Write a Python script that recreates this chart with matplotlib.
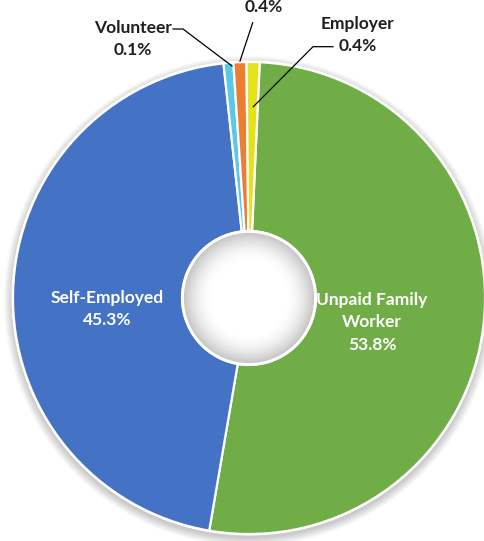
import numpy as np
import matplotlib
matplotlib.use('Agg')
import matplotlib.pyplot as plt
from matplotlib.patches import Circle

# slices, clockwise from the top
categories = ['Unpaid Family Worker', 'Self-Employed', 'Volunteer', '', 'Employer']
pct_labels = ['53.8%', '45.3%', '0.1%', '0.4%', '0.4%']
# shares of the ring as drawn in the picture
shares = [52.0, 45.6, 0.67, 0.89, 0.89]
colors = ['#70AD47', '#4472C4', '#5BC8EA', '#ED7D31', '#E3E21B']

W, H = 484, 541
cx, cy = 249, H - 298
R, r_hole = 236, 67

plt.rcParams['font.family'] = ['Lato', 'DejaVu Sans']
fig = plt.figure(figsize=(W / 100, H / 100), dpi=100)
ax = fig.add_axes([0, 0, 1, 1])

# soft outer shadow
for i in range(1, 10):
    ax.add_patch(Circle((cx, cy - 3), R + i, color='black', alpha=0.022, lw=0, zorder=0))
ax.add_patch(Circle((cx, cy), R + 1.5, color='white', lw=0, zorder=0.5))

wedges, _ = ax.pie(shares, colors=colors, startangle=90 - 2.6, counterclock=False,
                   radius=R, center=(cx, cy),
                   wedgeprops=dict(width=R - r_hole, edgecolor='white', linewidth=1.6))

# hole with inner shading
n = 200
g = np.linspace(-1, 1, n)
xx, yy = np.meshgrid(g, g)
d = np.sqrt(xx ** 2 + yy ** 2)
shade = 1 - 0.25 * np.clip((d - 0.55) / 0.45, 0, 1) ** 1.8
hole = ax.imshow(shade, cmap='gray', vmin=0, vmax=1,
                 extent=[cx - r_hole, cx + r_hole, cy - r_hole, cy + r_hole],
                 zorder=3, interpolation='bilinear')
clip = Circle((cx, cy), r_hole - 1, transform=ax.transData)
hole.set_clip_path(clip)
ax.add_patch(Circle((cx, cy), r_hole - 0.5, fill=False, ec='white', lw=2, zorder=4))

# labels inside the big slices
ax.text(107, H - 309, categories[1] + '\n' + pct_labels[1], color='white',
        fontsize=12.5, fontweight='bold', ha='center', va='center', linespacing=1.5)
ax.text(372, H - 322, 'Unpaid Family\nWorker\n' + pct_labels[0], color='white',
        fontsize=12.5, fontweight='bold', ha='center', va='center', linespacing=1.5)

# outside labels with leader lines
ax.text(133, H - 39, categories[2] + '\n' + pct_labels[2], color='#1f1f1f',
        fontsize=12.5, fontweight='bold', ha='center', va='center', linespacing=1.5)
ax.plot([173, 183, 232], [H - 29, H - 29, H - 66], color='black', lw=0.9, zorder=5)

ax.text(264, H - 7, pct_labels[3], color='#1f1f1f',
        fontsize=12.5, fontweight='bold', ha='center', va='center')
ax.plot([252.7, 240], [H - 22.7, H - 61], color='black', lw=0.9, zorder=5)

ax.text(358, H - 35, categories[4] + '\n' + pct_labels[4], color='#1f1f1f',
        fontsize=12.5, fontweight='bold', ha='center', va='center', linespacing=1.5)
ax.plot([333, 313, 253.3], [H - 46.7, H - 46.7, H - 106.7], color='black', lw=0.9, zorder=5)

ax.set_xlim(0, W)
ax.set_ylim(0, H)
ax.set_aspect('equal')
ax.axis('off')

fig.savefig('out.png', dpi=100, facecolor='white')
